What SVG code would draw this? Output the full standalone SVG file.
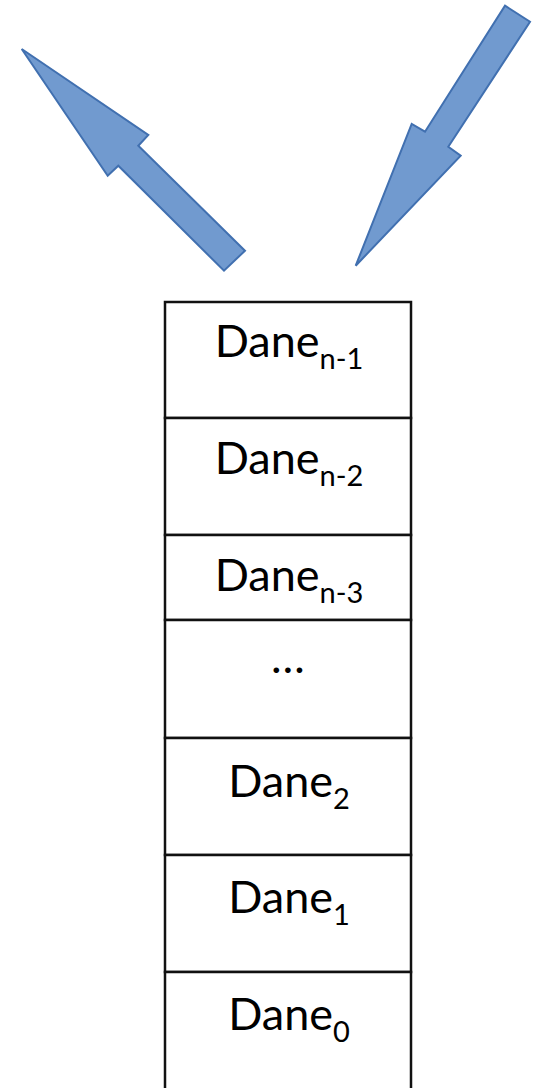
<svg xmlns="http://www.w3.org/2000/svg" width="537" height="1088" viewBox="0 0 537 1088">
  <style>
    .cell { fill: #ffffff; stroke: #111111; stroke-width: 2.5; }
    .lbl { font-family: Lato, "Liberation Sans", sans-serif; font-size: 45px; fill: #000000; text-anchor: middle; }
    .sub { font-size: 29px; }
    .arrow { fill: #719acf; stroke: #4170b0; stroke-width: 2; stroke-linejoin: miter; }
  </style>

  <!-- block arrows: push in, pop out -->
  <g id="connectors">
    <polygon id="arrow-out" class="arrow" points="21.7,49 148.3,135 138.3,145.7 245,250.7 224,270.7 118.3,165.7 107.7,175.7"/>
    <polygon id="arrow-in" class="arrow" points="505,5.7 530,21.7 448.3,146.7 460.7,155.7 355.7,265.7 411.7,124 425,131.7"/>
  </g>

  <!-- stack cells, top to bottom -->
  <g id="cell-n1">
    <rect class="cell" x="165" y="302" width="246" height="116"/>
    <text class="lbl" x="289" y="357">Dane<tspan class="sub" dy="12">n-1</tspan></text>
  </g>
  <g id="cell-n2">
    <rect class="cell" x="165" y="418" width="246" height="117"/>
    <text class="lbl" x="289" y="474">Dane<tspan class="sub" dy="12">n-2</tspan></text>
  </g>
  <g id="cell-n3">
    <rect class="cell" x="165" y="535" width="246" height="85"/>
    <text class="lbl" x="289" y="591">Dane<tspan class="sub" dy="12">n-3</tspan></text>
  </g>
  <g id="cell-dots">
    <rect class="cell" x="165" y="620" width="246" height="118"/>
    <text class="lbl" x="288" y="673">…</text>
  </g>
  <g id="cell-2">
    <rect class="cell" x="165" y="738" width="246" height="117"/>
    <text class="lbl" x="289" y="797">Dane<tspan class="sub" dy="12">2</tspan></text>
  </g>
  <g id="cell-1">
    <rect class="cell" x="165" y="855" width="246" height="117"/>
    <text class="lbl" x="289" y="913">Dane<tspan class="sub" dy="12">1</tspan></text>
  </g>
  <g id="cell-0">
    <rect class="cell" x="165" y="972" width="246" height="130"/>
    <text class="lbl" x="289" y="1030">Dane<tspan class="sub" dy="12">0</tspan></text>
  </g>
</svg>
